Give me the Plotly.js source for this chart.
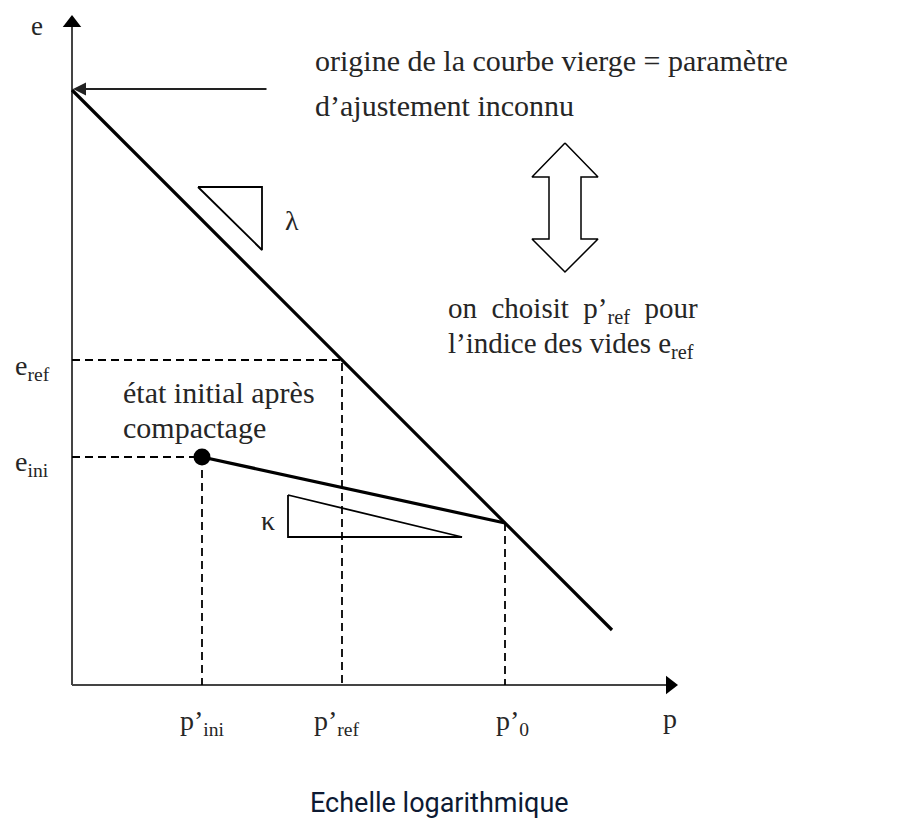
<!DOCTYPE html>
<html>
<head>
<meta charset="utf-8">
<script src="https://cdn.plot.ly/plotly-3.0.1.min.js"></script>
<style>html,body{margin:0;padding:0;background:#fff;}#chart{width:922px;height:821px;}</style>
</head>
<body>
<div id="chart"></div>
<script>
// Schematic coordinates: x = log p' (arbitrary units), y = void ratio e (arbitrary units)
const pLabels = ["p’<sub>ini</sub>", "p’<sub>ref</sub>", "p’<sub>0</sub>"];
const pValues = [130, 270, 433];
const eLabels = ["e<sub>ref</sub>", "e<sub>ini</sub>"];
const eValues = [325, 228];
const virginP = [0, 540];
const virginE = [595, 55];
const unloadP = [130, 433];
const unloadE = [228, 162];
const lambdaTriP = [126, 190, 190, 126];
const lambdaTriE = [498, 498, 435, 498];
const kappaTriP = [216, 216, 390, 216];
const kappaTriE = [190, 148, 148, 190];
const dblArrowP = [493, 526, 509, 509, 526, 493, 460, 477, 477, 460, 493];
const dblArrowE = [542, 508, 508, 446, 446, 413, 446, 446, 508, 508, 542];
const xAxisEnd = 598;
const yAxisEnd = 662;

const serif = "'Liberation Serif', 'DejaVu Serif', serif";
const txt = "#262626";
const dashStyle = "8px,5px";

const traces = [];
function line(x, y, opts) {
  traces.push(Object.assign({type: 'scatter', mode: 'lines', x: x, y: y, hoverinfo: 'skip',
    line: {color: '#000', width: 2}}, opts || {}));
}
// axes
line([0, 0], [0, yAxisEnd], {line: {color: '#444', width: 2}});
line([0, xAxisEnd], [0, 0], {line: {color: '#444', width: 2}});
traces.push({type: 'scatter', mode: 'markers', x: [0], y: [yAxisEnd], hoverinfo: 'skip',
  marker: {symbol: 'triangle-up', size: 16, color: '#000'}});
traces.push({type: 'scatter', mode: 'markers', x: [xAxisEnd], y: [0], hoverinfo: 'skip',
  marker: {symbol: 'triangle-right', size: 16, color: '#000'}});
// dashed guides
line([0, pValues[1], pValues[1]], [eValues[0], eValues[0], 0], {line: {color: '#000', width: 1.8, dash: dashStyle}});
line([0, pValues[0], pValues[0]], [eValues[1], eValues[1], 0], {line: {color: '#000', width: 1.8, dash: dashStyle}});
line([pValues[2], pValues[2]], [unloadE[1], 0], {line: {color: '#000', width: 1.8, dash: dashStyle}});
// virgin line and unloading line
line(virginP, virginE, {line: {color: '#000', width: 3.2}});
line(unloadP, unloadE, {line: {color: '#000', width: 3.2}});
// slope triangles
line(lambdaTriP, lambdaTriE, {line: {color: '#000', width: 1.8}});
line(kappaTriP, kappaTriE, {line: {color: '#000', width: 1.8}});
// double arrow
line(dblArrowP, dblArrowE, {line: {color: '#000', width: 1.5}, fill: 'toself', fillcolor: '#fff'});
// initial state point
traces.push({type: 'scatter', mode: 'markers', x: [unloadP[0]], y: [unloadE[0]], hoverinfo: 'skip',
  marker: {symbol: 'circle', size: 17, color: '#000'}});

const annotations = [];
function label(text, x, y, size, opts) {
  annotations.push(Object.assign({text: text, x: x, y: y, xref: 'x', yref: 'y', showarrow: false,
    font: {family: serif, size: size, color: txt}}, opts || {}));
}
label("e", -35, 659, 27);
label(eLabels[0], -40, eValues[0] - 7, 28);
label(eLabels[1], -40, eValues[1] - 6, 28);
for (let i = 0; i < pLabels.length; i++) {
  label(pLabels[i], pValues[i] + [0, -5, 7][i], -37, 28);
}
label("p", 598, -33, 28);
label("origine de la courbe vierge = paramètre", 241, 625, 30, {xanchor: 'left'});
label("d’ajustement inconnu", 241, 580, 30, {xanchor: 'left'});
label("λ", 220, 465, 28);
label("κ", 196, 165, 28);
label("on &nbsp;choisit &nbsp;p’<sub>ref</sub> &nbsp;pour", 374, 375, 29, {xanchor: 'left'});
label("l’indice des vides e<sub>ref</sub>", 374, 340, 29, {xanchor: 'left'});
label("état initial après", 49, 293, 30, {xanchor: 'left'});
label("compactage", 49, 258, 30, {xanchor: 'left'});
annotations.push({text: "Echelle logarithmique", x: 367, y: -118, xref: 'x', yref: 'y', showarrow: false,
  font: {family: "'Liberation Sans Narrow', Roboto, sans-serif", size: 27, color: '#0d1a33'}});
// arrow pointing to origin of the virgin curve
annotations.push({x: 1, y: 596, ax: 196, ay: 596, axref: 'x', ayref: 'y', xref: 'x', yref: 'y',
  showarrow: true, arrowhead: 2, arrowsize: 1.3, arrowwidth: 2, arrowcolor: '#222', text: ''});

const layout = {
  width: 922, height: 821,
  margin: {l: 0, r: 0, t: 0, b: 0},
  paper_bgcolor: '#fff', plot_bgcolor: '#fff',
  showlegend: false,
  xaxis: {range: [-72, 850], visible: false, fixedrange: true},
  yaxis: {range: [-136, 685], visible: false, fixedrange: true},
  annotations: annotations
};
Plotly.newPlot('chart', traces, layout, {displayModeBar: false, staticPlot: true});
</script>
</body>
</html>
